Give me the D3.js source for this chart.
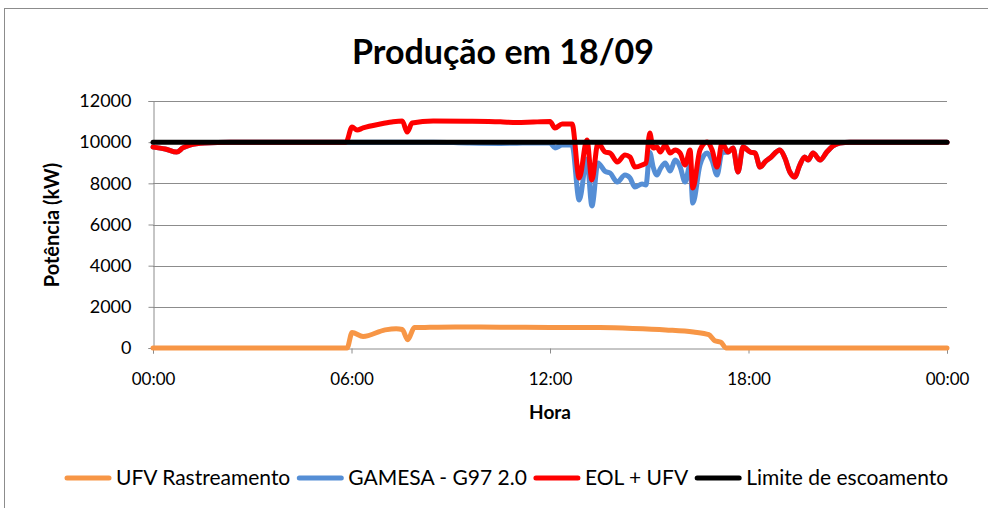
<!DOCTYPE html>
<html>
<head>
<meta charset="utf-8">
<script src="https://cdn.jsdelivr.net/npm/d3@7"></script>
<style>
  body { margin: 0; background: #fff; }
  svg { display: block; font-family: Lato, "Open Sans", sans-serif; }
</style>
</head>
<body>
<div id="chart"></div>
<script>
// ---- data ----
const title = "Produção em 18/09";
const seriesNames = ["UFV Rastreamento", "GAMESA - G97 2.0", "EOL + UFV", "Limite de escoamento"];
const seriesColors = ["#F79646", "#558ED5", "#FF0000", "#000000"];

const yTicks = [0, 2000, 4000, 6000, 8000, 10000, 12000];

const ufvTimes = ["00:00", "05:52", "06:01", "06:21", "07:01", "07:21", "07:32", "07:42", "07:54", "08:13",
  "09:08", "10:30", "12:00", "13:30", "14:30", "15:30", "16:20", "16:48", "16:59", "17:10", "17:19", "24:00"];
const ufvValues = [0, 0, 750, 560, 880, 940, 900, 400, 990, 1000,
  1020, 1010, 1000, 990, 950, 880, 780, 650, 350, 280, 0, 0];

const windTimes = ["00:00", "00:22", "00:43", "00:54", "01:07", "01:34", "02:20", "05:50", "06:01", "06:10",
  "06:21", "06:52", "07:13", "07:32", "07:41", "07:50", "08:28", "09:30", "10:30", "11:00",
  "11:30", "12:00", "12:09", "12:22", "12:40", "12:53", "13:07", "13:16", "13:27", "13:40",
  "13:49", "14:02", "14:16", "14:25", "14:34", "14:47", "14:54", "15:01", "15:07", "15:14",
  "15:20", "15:29", "15:38", "15:47", "15:56", "16:05", "16:14", "16:19", "16:32", "16:45",
  "16:54", "17:03", "17:12", "17:23", "17:32", "17:41", "17:50", "18:03", "18:12", "18:21",
  "18:30", "18:39", "18:57", "19:06", "19:15", "19:24", "19:33", "19:42", "19:48", "19:57",
  "20:10", "20:22", "20:33", "20:46", "21:04", "24:00"];

const gamesaValues = [9760, 9670, 9520, 9720, 9860, 9960, 10000, 10000, 10000, 10000,
  10000, 10000, 10000, 10000, 10000, 10000, 10000, 9960, 9940, 9950,
  9960, 9960, 9720, 9860, 9860, 7190, 9180, 6900, 8990, 8580,
  8500, 8060, 8400, 8260, 7820, 7970, 7920, 9500, 8800, 8400,
  8700, 8990, 8600, 9130, 8800, 8060, 8900, 7040, 8890, 9470,
  9100, 8400, 9500, 9520, 9720, 8550, 9760, 9520, 9470, 8790,
  9040, 9230, 9620, 9230, 8550, 8310, 8890, 9280, 9130, 9470,
  9130, 9520, 9810, 9960, 10000, 10000];

const eolValues = [9760, 9670, 9520, 9720, 9860, 9960, 10000, 10000, 10740, 10590,
  10690, 10880, 10980, 11030, 10490, 10930, 11030, 11020, 10990, 10950,
  10980, 11000, 10690, 10880, 10880, 8260, 10100, 8160, 9960, 9520,
  9470, 9040, 9380, 9280, 8790, 8890, 8990, 10440, 9720, 9760,
  9520, 9860, 9470, 9620, 9470, 8890, 9620, 7770, 9620, 10010,
  9620, 8790, 9960, 9520, 9720, 8550, 9760, 9520, 9470, 8790,
  9040, 9230, 9620, 9230, 8550, 8310, 8890, 9280, 9130, 9470,
  9130, 9520, 9810, 9960, 10000, 10000];

const limitTimes = ["00:00", "24:00"];
const limitValues = [10000, 10000];

// ---- layout ----
const width = 988, height = 508;
const margin = { top: 101, right: 41, bottom: 160, left: 153 };

const day = new Date(2000, 8, 18);
const toDate = t => {
  const [h, m] = t.split(":").map(Number);
  return new Date(day.getTime() + (h * 60 + m) * 60000);
};
const zip = (times, values) => times.map((t, i) => ({ t: toDate(t), v: values[i] }));

const series = [
  zip(ufvTimes, ufvValues),
  zip(windTimes, gamesaValues),
  zip(windTimes, eolValues),
  zip(limitTimes, limitValues)
];

const svg = d3.select("#chart").append("svg")
  .attr("width", width)
  .attr("height", height);

svg.append("rect")
  .attr("x", 4.5).attr("y", 8.5)
  .attr("width", 1000).attr("height", 600)
  .attr("fill", "#fff")
  .attr("stroke", "#8c8c8c");

const x = d3.scaleTime()
  .domain([day, d3.timeDay.offset(day, 1)])
  .range([margin.left, width - margin.right]);

const y = d3.scaleLinear()
  .domain([0, 12000])
  .range([height - margin.bottom, margin.top]);

// gridlines
svg.append("g")
  .selectAll("line")
  .data(yTicks.slice(1))
  .join("line")
  .attr("x1", margin.left).attr("x2", width - margin.right)
  .attr("y1", d => Math.round(y(d)) + 0.5).attr("y2", d => Math.round(y(d)) + 0.5)
  .attr("stroke", "#8c8c8c");

const yAxis = svg.append("g")
  .attr("transform", `translate(${margin.left + 0.5},0)`)
  .call(d3.axisLeft(y).tickValues(yTicks).tickSize(5).tickPadding(17).tickFormat(d3.format("d")));

const xAxis = svg.append("g")
  .attr("transform", `translate(0,${height - margin.bottom + 0.5})`)
  .call(d3.axisBottom(x).ticks(d3.timeHour.every(6)).tickSize(5).tickPadding(19)
    .tickFormat(d3.timeFormat("%H:%M")));

[xAxis, yAxis].forEach(g => {
  g.select(".domain").attr("stroke", "#8c8c8c");
  g.selectAll(".tick line").attr("stroke", "#8c8c8c");
  g.selectAll(".tick text")
    .attr("fill", "#000")
    .style("font-family", "Lato, sans-serif");
});
yAxis.selectAll(".tick text").style("font-size", "18px");
xAxis.selectAll(".tick text").style("font-size", "17px");

// lines
const line = d3.line()
  .x(d => x(d.t))
  .y(d => y(d.v))
  .curve(d3.curveMonotoneX);

svg.append("g")
  .selectAll("path")
  .data(series)
  .join("path")
  .attr("d", line)
  .attr("fill", "none")
  .attr("stroke", (d, i) => seriesColors[i])
  .attr("stroke-width", 5)
  .attr("stroke-linejoin", "round")
  .attr("stroke-linecap", "round");

// titles
svg.append("text")
  .attr("x", 503).attr("y", 64)
  .attr("text-anchor", "middle")
  .style("font-size", "34px")
  .style("font-weight", "bold")
  .text(title);

svg.append("text")
  .attr("x", 550).attr("y", 419)
  .attr("text-anchor", "middle")
  .style("font-size", "19px")
  .style("font-weight", "bold")
  .text("Hora");

svg.append("text")
  .attr("transform", "translate(59,225) rotate(-90)")
  .attr("text-anchor", "middle")
  .style("font-size", "20px")
  .style("font-weight", "bold")
  .text("Potência (kW)");

// legend
const legend = svg.append("g").attr("transform", "translate(0,478)");
let lx = 65;
seriesNames.forEach((name, i) => {
  legend.append("line")
    .attr("x1", lx + 2).attr("x2", lx + 44)
    .attr("stroke", seriesColors[i])
    .attr("stroke-width", 5)
    .attr("stroke-linecap", "round");
  const t = legend.append("text")
    .attr("x", lx + 51).attr("y", 7)
    .style("font-size", "21px")
    .text(name);
  lx += 51 + t.node().getComputedTextLength() + 7;
});
</script>
</body>
</html>
